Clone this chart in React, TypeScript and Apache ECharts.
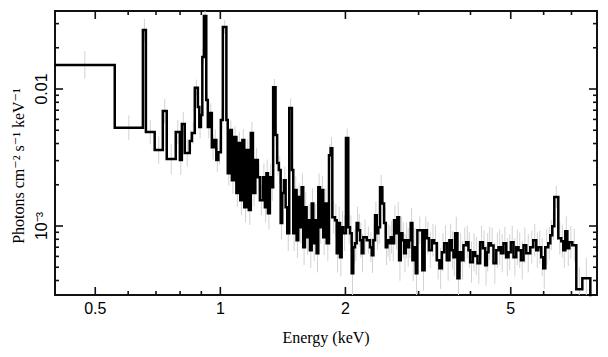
import React, { useEffect, useRef } from "react";
import * as echarts from "echarts";

// Energy bin lower edges (keV)
const binLo = [
  0.400, 0.557, 0.651, 0.662, 0.695, 0.727, 0.743, 0.781, 0.799, 0.808,
  0.821, 0.844, 0.854, 0.868, 0.883, 0.890, 0.898, 0.905, 0.913, 0.925,
  0.933, 0.943, 0.954, 0.967, 0.978, 0.989, 1.003, 1.014, 1.034, 1.042,
  1.054, 1.066, 1.078, 1.093, 1.105, 1.117, 1.130, 1.142, 1.158, 1.171,
  1.184, 1.198, 1.214, 1.231, 1.245, 1.266, 1.280, 1.291, 1.302, 1.316,
  1.327, 1.340, 1.358, 1.370, 1.383, 1.397, 1.409, 1.423, 1.436, 1.449,
  1.465, 1.487, 1.498, 1.512, 1.526, 1.540, 1.555, 1.569, 1.583, 1.598,
  1.613, 1.628, 1.643, 1.659, 1.674, 1.689, 1.705, 1.721, 1.737, 1.753,
  1.769, 1.786, 1.803, 1.826, 1.843, 1.860, 1.888, 1.906, 1.923, 1.941,
  1.959, 1.977, 2.006, 2.032, 2.052, 2.071, 2.089, 2.109, 2.129, 2.148,
  2.169, 2.189, 2.209, 2.251, 2.292, 2.314, 2.335, 2.357, 2.379, 2.400,
  2.423, 2.454, 2.478, 2.501, 2.523, 2.547, 2.571, 2.595, 2.619, 2.644,
  2.667, 2.693, 2.718, 2.743, 2.769, 2.795, 2.819, 2.846, 2.873, 2.899,
  2.927, 2.954, 2.980, 3.063, 3.102, 3.142, 3.177, 3.228, 3.270, 3.319,
  3.367, 3.413, 3.457, 3.509, 3.559, 3.607, 3.640, 3.674, 3.721, 3.763,
  3.813, 3.847, 3.905, 3.955, 3.993, 4.053, 4.105, 4.158, 4.221, 4.285,
  4.340, 4.381, 4.420, 4.479, 4.544, 4.613, 4.672, 4.735, 4.803, 4.876,
  4.938, 5.005, 5.078, 5.154, 5.220, 5.291, 5.367, 5.448, 5.571, 5.664,
  5.759, 5.824, 5.921, 5.987, 6.054, 6.156, 6.225, 6.294, 6.365, 6.507,
  6.616, 6.690, 6.765, 6.840, 6.917, 7.033, 7.190, 7.434, 7.772,
];
const binHiLast = 8.215;

// Flux per bin (photons cm^-2 s^-1 keV^-1)
const flux = [
  0.0150, 0.00521, 0.0270, 0.00485, 0.00358, 0.00690, 0.00308, 0.00485, 0.00303, 0.00555,
  0.00341, 0.00417, 0.00477, 0.0102, 0.00738, 0.00527, 0.00646, 0.0171, 0.0341, 0.00831,
  0.00527, 0.00668, 0.00376, 0.00424, 0.00303, 0.00346, 0.00594, 0.0284, 0.00594, 0.00243,
  0.00502, 0.00216, 0.00446, 0.00174, 0.00403, 0.00154, 0.00424, 0.00137, 0.00358, 0.00131,
  0.00477, 0.00174, 0.00303, 0.00227, 0.00154, 0.00227, 0.00137, 0.00243, 0.00124, 0.00227,
  0.00192, 0.0103, 0.00461, 0.00288, 0.00256, 0.00105, 0.00174, 0.00216, 0.00137, 0.000886,
  0.00726, 0.00256, 0.000886, 0.00183, 0.000788, 0.00163, 0.000979, 0.00192, 0.000700, 0.00137,
  0.000828, 0.00110, 0.000666, 0.00146, 0.000749, 0.00110, 0.000633, 0.00192, 0.000979, 0.00183,
  0.000828, 0.00146, 0.000749, 0.00329, 0.00370, 0.00116, 0.00110, 0.000633, 0.00105, 0.000592,
  0.000979, 0.000886, 0.00438, 0.000979, 0.000886, 0.000452, 0.000700, 0.000749, 0.00105, 0.000932,
  0.000788, 0.000633, 0.000828, 0.000788, 0.000700, 0.000612, 0.000788, 0.00120, 0.000886, 0.000979,
  0.00192, 0.00146, 0.00105, 0.000700, 0.000788, 0.000749, 0.000828, 0.000749, 0.00110, 0.000886,
  0.00116, 0.000562, 0.000886, 0.000788, 0.000633, 0.000788, 0.000700, 0.000788, 0.00105, 0.000562,
  0.000700, 0.000452, 0.000932, 0.000475, 0.000932, 0.000815, 0.000666, 0.000788, 0.000749, 0.000562,
  0.000491, 0.000643, 0.000749, 0.000562, 0.000788, 0.000666, 0.000592, 0.000886, 0.000415, 0.000643,
  0.000562, 0.000724, 0.000761, 0.000666, 0.000544, 0.000643, 0.000605, 0.000535, 0.000761, 0.000689,
  0.000517, 0.000643, 0.000749, 0.000720, 0.000535, 0.000666, 0.000700, 0.000633, 0.000749, 0.000592,
  0.000643, 0.000761, 0.000592, 0.000700, 0.000666, 0.000562, 0.000724, 0.000633, 0.000700, 0.000788,
  0.000666, 0.000700, 0.000592, 0.000491, 0.000700, 0.000749, 0.000857, 0.000996, 0.00163, 0.000815,
  0.000775, 0.000666, 0.000917, 0.000689, 0.000761, 0.000724, 0.000345, 0.000415, 0.000200,
];

// 1-sigma error half-length per bin, in dex
const errDex = [
  0.10, 0.09, 0.08, 0.09, 0.10, 0.09, 0.11, 0.09, 0.11, 0.09,
  0.10, 0.08, 0.08, 0.06, 0.07, 0.08, 0.07, 0.06, 0.05, 0.07,
  0.08, 0.07, 0.09, 0.08, 0.09, 0.09, 0.07, 0.05, 0.07, 0.09,
  0.07, 0.10, 0.08, 0.10, 0.08, 0.11, 0.08, 0.11, 0.08, 0.11,
  0.08, 0.10, 0.09, 0.10, 0.11, 0.10, 0.11, 0.10, 0.12, 0.10,
  0.10, 0.06, 0.08, 0.09, 0.10, 0.12, 0.10, 0.10, 0.11, 0.13,
  0.07, 0.09, 0.13, 0.10, 0.13, 0.10, 0.12, 0.10, 0.13, 0.11,
  0.13, 0.12, 0.13, 0.11, 0.13, 0.12, 0.14, 0.10, 0.12, 0.10,
  0.13, 0.11, 0.13, 0.08, 0.08, 0.12, 0.12, 0.14, 0.12, 0.14,
  0.12, 0.13, 0.07, 0.12, 0.13, 0.16, 0.13, 0.13, 0.12, 0.12,
  0.13, 0.14, 0.13, 0.10, 0.11, 0.13, 0.12, 0.10, 0.12, 0.12,
  0.09, 0.10, 0.11, 0.13, 0.12, 0.13, 0.12, 0.13, 0.11, 0.12,
  0.11, 0.15, 0.12, 0.13, 0.14, 0.13, 0.14, 0.13, 0.11, 0.15,
  0.14, 0.16, 0.10, 0.15, 0.10, 0.12, 0.13, 0.12, 0.13, 0.14,
  0.15, 0.14, 0.13, 0.15, 0.12, 0.14, 0.14, 0.12, 0.16, 0.14,
  0.14, 0.13, 0.12, 0.13, 0.15, 0.14, 0.14, 0.15, 0.12, 0.13,
  0.15, 0.14, 0.12, 0.13, 0.15, 0.13, 0.13, 0.14, 0.12, 0.14,
  0.13, 0.12, 0.14, 0.13, 0.13, 0.14, 0.13, 0.14, 0.12, 0.12,
  0.13, 0.12, 0.14, 0.15, 0.13, 0.12, 0.11, 0.10, 0.08, 0.12,
  0.12, 0.13, 0.11, 0.13, 0.12, 0.12, 0.16, 0.15, 0.15,
];

const xMajorTicks = [0.5, 1, 2, 5];
const xMajorLabels = ["0.5", "1", "2", "5"];
const xMinorTicks = [0.6, 0.7, 0.8, 0.9, 3, 4, 6, 7];
const yMajorTicks = [0.001, 0.01];
const yMajorLabels = ["10\u207B\u00B3", "0.01"];
const yMinorTicks = [
  0.0004, 0.0005, 0.0006, 0.0007, 0.0008, 0.0009,
  0.002, 0.003, 0.004, 0.005, 0.006, 0.007, 0.008, 0.009,
  0.02, 0.03,
];

const X_MIN = 0.4;
const X_MAX = 8.064;
const Y_MIN = 3.136e-4;
const Y_MAX = 0.0371;

const SANS = "'Liberation Sans', Arial, Helvetica, sans-serif";
const SERIF = "'Liberation Serif', 'Times New Roman', 'DejaVu Serif', serif";
const AXIS_COLOR = "#111";

export default function App() {
  const ref = useRef<HTMLDivElement>(null);

  useEffect(() => {
    if (!ref.current) return;
    const chart = echarts.init(ref.current, null, { renderer: "svg" });

    const stepData: number[][] = binLo.map((e, i) => [e, flux[i]]);
    stepData.push([binHiLast, flux[flux.length - 1]]);

    const errData = binLo.map((e, i) => {
      const hi = i + 1 < binLo.length ? binLo[i + 1] : binHiLast;
      return [Math.sqrt(e * hi), flux[i], errDex[i] ?? 0.12];
    });

    const xTickData = [
      ...xMajorTicks.map((v, i) => [v, Y_MIN, 1, i]),
      ...xMinorTicks.map((v) => [v, Y_MIN, 0, -1]),
    ];
    const yTickData = [
      ...yMajorTicks.map((v, i) => [X_MIN, v, 1, i]),
      ...yMinorTicks.map((v) => [X_MIN, v, 0, -1]),
    ];

    const tickStyle = { stroke: AXIS_COLOR, lineWidth: 1.6 };

    chart.setOption({
      animation: false,
      backgroundColor: "#ffffff",
      grid: {
        left: 55,
        top: 11,
        right: 11,
        bottom: 62,
        show: true,
        borderColor: AXIS_COLOR,
        borderWidth: 2,
        backgroundColor: "transparent",
      },
      xAxis: {
        type: "log",
        logBase: 10,
        min: X_MIN,
        max: X_MAX,
        axisLine: { show: false },
        axisTick: { show: false },
        axisLabel: { show: false },
        splitLine: { show: false },
        minorTick: { show: false },
      },
      yAxis: {
        type: "log",
        logBase: 10,
        min: Y_MIN,
        max: Y_MAX,
        axisLine: { show: false },
        axisTick: { show: false },
        axisLabel: { show: false },
        splitLine: { show: false },
        minorTick: { show: false },
      },
      graphic: [
        {
          type: "text",
          x: 326,
          y: 337,
          style: {
            text: "Energy (keV)",
            fontFamily: SERIF,
            fontSize: 16,
            fill: "#000",
            align: "center",
            verticalAlign: "middle",
          },
        },
        {
          type: "text",
          x: 18,
          y: 166,
          rotation: Math.PI / 2,
          style: {
            text: "Photons cm\u207B\u00B2 s\u207B\u00B9 keV\u207B\u00B9",
            fontFamily: SERIF,
            fontSize: 16,
            fill: "#000",
            align: "center",
            verticalAlign: "middle",
          },
        },
      ],
      series: [
        {
          type: "custom",
          name: "errors",
          clip: true,
          z: 1,
          data: errData,
          renderItem: (params: any, api: any) => {
            const x = api.value(0);
            const f = api.value(1);
            const d = api.value(2);
            const p1 = api.coord([x, f * Math.pow(10, -d)]);
            const p2 = api.coord([x, f * Math.pow(10, d)]);
            return {
              type: "line",
              shape: { x1: p1[0], y1: p1[1], x2: p2[0], y2: p2[1] },
              style: { stroke: "#d2d2d2", lineWidth: 1 },
            };
          },
        },
        {
          type: "line",
          name: "spectrum",
          step: "end",
          data: stepData,
          showSymbol: false,
          symbol: "none",
          clip: true,
          z: 3,
          lineStyle: { color: "#000", width: 2.5, join: "miter", cap: "butt" },
        },
        {
          type: "custom",
          name: "xticks",
          clip: false,
          z: 5,
          silent: true,
          data: xTickData,
          renderItem: (params: any, api: any) => {
            const v = api.value(0);
            const major = api.value(2) === 1;
            const idx = api.value(3);
            const p = api.coord([v, Y_MIN]);
            const cs = params.coordSys;
            const top = cs.y;
            const bottom = cs.y + cs.height;
            const len = major ? 8 : 4;
            const children: any[] = [
              { type: "line", shape: { x1: p[0], y1: bottom, x2: p[0], y2: bottom - len }, style: tickStyle },
              { type: "line", shape: { x1: p[0], y1: top, x2: p[0], y2: top + len }, style: tickStyle },
            ];
            if (major) {
              children.push({
                type: "text",
                x: p[0],
                y: bottom + 13,
                style: {
                  text: xMajorLabels[idx],
                  fontFamily: SANS,
                  fontSize: 16,
                  fill: "#000",
                  align: "center",
                  verticalAlign: "middle",
                },
              });
            }
            return { type: "group", children };
          },
        },
        {
          type: "custom",
          name: "yticks",
          clip: false,
          z: 5,
          silent: true,
          data: yTickData,
          renderItem: (params: any, api: any) => {
            const v = api.value(1);
            const major = api.value(2) === 1;
            const idx = api.value(3);
            const p = api.coord([X_MIN, v]);
            const cs = params.coordSys;
            const left = cs.x;
            const right = cs.x + cs.width;
            const len = major ? 8 : 4;
            const children: any[] = [
              { type: "line", shape: { x1: left, y1: p[1], x2: left + len, y2: p[1] }, style: tickStyle },
              { type: "line", shape: { x1: right, y1: p[1], x2: right - len, y2: p[1] }, style: tickStyle },
            ];
            if (major) {
              children.push({
                type: "text",
                x: left - 14,
                y: p[1],
                rotation: Math.PI / 2,
                style: {
                  text: yMajorLabels[idx],
                  fontFamily: SANS,
                  fontSize: 16,
                  fill: "#000",
                  align: "center",
                  verticalAlign: "middle",
                },
              });
            }
            return { type: "group", children };
          },
        },
      ],
    });

    return () => {
      chart.dispose();
    };
  }, []);

  return (
    <div
      ref={ref}
      style={{ position: "absolute", left: 0, top: 0, width: 608, height: 357, background: "#fff" }}
    />
  );
}
